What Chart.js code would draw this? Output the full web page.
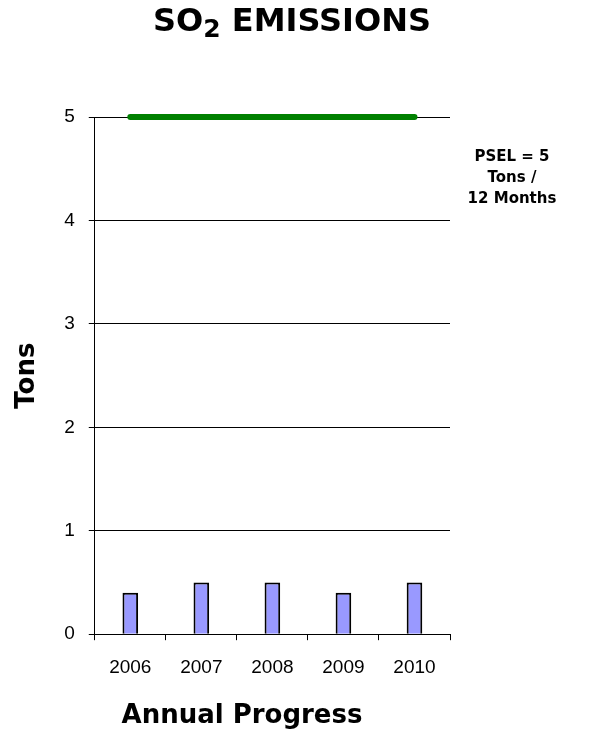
<!DOCTYPE html>
<html>
<head>
<meta charset="utf-8">
<script src="https://cdn.jsdelivr.net/npm/chart.js@4/dist/chart.umd.min.js"></script>
<style>
  html, body { margin: 0; padding: 0; background: #fff; }
  #wrap { width: 592px; height: 734px; }
</style>
</head>
<body>
<div id="wrap"><canvas id="so2chart" width="592" height="734"></canvas></div>
<script>
// values
var years = ["2006", "2007", "2008", "2009", "2010"];
var emissions = [0.4, 0.5, 0.5, 0.4, 0.5];
var psel = [5, 5, 5, 5, 5];
var pselLabel = ["PSEL = 5", "Tons /", "12 Months"];
var titleParts = ["SO", "2", " EMISSIONS"];
var xTitle = "Annual Progress";

// title with a real subscript 2, the x axis title, and the PSEL note
var extraText = {
  id: 'extraText',
  afterDraw: function(chart) {
    var ctx = chart.ctx;
    var area = chart.chartArea;
    ctx.save();
    ctx.fillStyle = '#000';
    ctx.textBaseline = 'alphabetic';
    ctx.textAlign = 'left';

    var big = 'bold 32px "DejaVu Sans"';
    var small = 'bold 25px "DejaVu Sans"';
    ctx.font = big;
    var w0 = ctx.measureText(titleParts[0]).width;
    var w2 = ctx.measureText(titleParts[2]).width;
    ctx.font = small;
    var w1 = ctx.measureText(titleParts[1]).width;
    var x = 292 - (w0 + w1 + w2) / 2;
    ctx.font = big;
    ctx.fillText(titleParts[0], x, 31);
    ctx.font = small;
    ctx.fillText(titleParts[1], x + w0, 37);
    ctx.font = big;
    ctx.fillText(titleParts[2], x + w0 + w1, 31);

    // x axis title sits a bit left of the plot centre in the original
    ctx.textAlign = 'center';
    ctx.textBaseline = 'middle';
    ctx.font = 'bold 26px "DejaVu Sans"';
    ctx.fillText(xTitle, 242, 716);

    ctx.font = 'bold 15px "DejaVu Sans"';
    for (var i = 0; i < pselLabel.length; i++) {
      ctx.fillText(pselLabel[i], area.right + 62, area.top + 40 + i * 21);
    }
    ctx.restore();
  }
};

var ctx = document.getElementById("so2chart").getContext("2d");
var chart = new Chart(ctx, {
  type: 'bar',
  data: {
    labels: years,
    datasets: [
      {
        type: 'line',
        label: 'PSEL',
        data: psel,
        borderColor: '#008000',
        borderWidth: 6,
        borderCapStyle: 'round',
        pointRadius: 0,
        clip: false,
        order: 0
      },
      {
        label: 'SO2 emissions',
        data: emissions,
        backgroundColor: '#9999FF',
        borderColor: '#000',
        borderWidth: 2,
        barPercentage: 0.22,
        categoryPercentage: 1,
        order: 1
      }
    ]
  },
  plugins: [extraText],
  options: {
    responsive: false,
    animation: false,
    layout: { padding: { left: 0, right: 142, top: 117, bottom: 39 } },
    plugins: {
      legend: { display: false },
      tooltip: { enabled: false },
      title: { display: false }
    },
    scales: {
      x: {
        grid: { offset: true, drawOnChartArea: false, color: '#000', tickLength: 6 },
        border: { color: '#000', width: 1 },
        ticks: { color: '#000', padding: 16, font: { family: '"Liberation Sans"', size: 19 } }
      },
      y: {
        min: 0,
        max: 5,
        ticks: { stepSize: 1, color: '#000', padding: 14, font: { family: '"Liberation Sans"', size: 19 } },
        grid: { color: '#000', tickLength: 6 },
        border: { color: '#000', width: 1 },
        title: {
          display: true,
          text: 'Tons',
          color: '#000',
          font: { family: '"DejaVu Sans"', size: 26, weight: 'bold' },
          padding: { top: 12, bottom: 7 }
        }
      }
    }
  }
});
</script>
</body>
</html>
